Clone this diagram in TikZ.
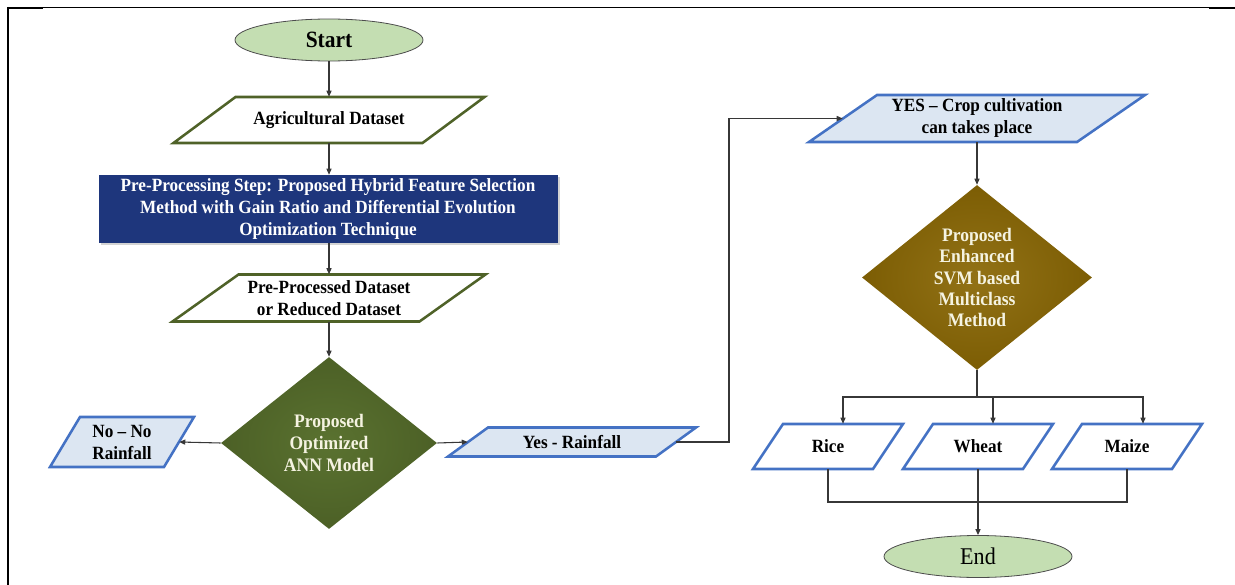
\documentclass[tikz,border=0pt]{standalone}
\usepackage{fontspec}
\setmainfont{Liberation Serif}[FakeStretch=0.92]
\usetikzlibrary{arrows.meta,shapes.geometric,shadows,calc}

\definecolor{ioGreen}{RGB}{79,98,40}
\definecolor{ioBlue}{RGB}{68,114,196}
\definecolor{ioBlueFill}{RGB}{220,230,242}
\definecolor{termFill}{RGB}{196,222,178}
\definecolor{navy}{RGB}{30,54,124}
\definecolor{annOuter}{RGB}{76,96,38}
\definecolor{annInner}{RGB}{90,114,48}
\definecolor{svmOuter}{RGB}{124,93,4}
\definecolor{svmInner}{RGB}{146,114,22}
\definecolor{cream}{RGB}{245,243,225}
\definecolor{wire}{RGB}{55,55,55}

% input/output parallelogram: style, name, centre x, centre y, edge length, height, slant, text
\newcommand\iobox[8]{%
  \draw[#1] ({#3-#5/2+#7/2},{#4-#6/2}) -- ({#3+#5/2+#7/2},{#4-#6/2})
     -- ({#3+#5/2-#7/2},{#4+#6/2}) -- ({#3-#5/2-#7/2},{#4+#6/2}) -- cycle;
  \node[txt, minimum width=#5*0.75pt, minimum height=#6*0.75pt] (#2) at (#3,#4) {#8};
}

\begin{document}
\begin{tikzpicture}[x=0.75pt,y=-0.75pt,
  txt/.style={font=\fontsize{14}{16.5}\selectfont\bfseries, align=center, inner sep=0pt},
  term/.style={ellipse, draw=black!70, line width=0.6pt, fill=termFill,
    minimum width=188*0.75pt, minimum height=42*0.75pt, inner sep=0pt},
  ioG/.style={draw=ioGreen, line width=1.9pt, fill=white},
  ioB/.style={draw=ioBlue, line width=1.9pt, fill=ioBlueFill},
  ioW/.style={draw=ioBlue, line width=1.9pt, fill=white},
  procbox/.style={rectangle, fill=navy, text=white, txt,
    minimum width=459*0.75pt, minimum height=68*0.75pt,
    drop shadow={shadow xshift=1.5pt, shadow yshift=-1.5pt, opacity=0.35}},
  dec/.style={diamond, inner sep=0pt, text=cream, txt, shading=radial},
  wire/.style={draw=wire, line width=0.8pt},
  arr/.style={wire, -{Triangle[length=4.5pt,width=3.8pt]}}]

\useasboundingbox (0,0) rectangle (1235,585);

% page frame
\draw[line width=0.75pt] (43,8) -- (1209,8);
\draw[line width=2pt] (7,8) -- (43,8);
\draw[line width=2pt] (1209,8) -- (1235,8);
\draw[line width=2.2pt] (8,7) -- (8,585);

% left column
\node[term, font=\fontsize{17.5}{20}\selectfont\bfseries] (start) at (329,40) {Start};
\iobox{ioG}{agri}{329}{120}{249}{46}{62}{Agricultural Dataset}
\node[procbox] (prep) at (328,209)
  {Pre-Processing Step: Proposed Hybrid Feature Selection\\
   Method with Gain Ratio and Differential Evolution\\
   Optimization Technique};
\iobox{ioG}{reduced}{329}{298}{247}{47}{66}{Pre-Processed Dataset\\or Reduced Dataset}
\node[dec, inner color=annInner, outer color=annOuter,
  minimum width=216*0.75pt, minimum height=172*0.75pt,
  font=\fontsize{14.3}{16.5}\selectfont\bfseries] (ann) at (329,443)
  {Proposed\\Optimized\\ANN Model};
\iobox{ioB}{norain}{122}{442}{114}{50}{30}{No – No\\Rainfall}
\iobox{ioB}{rain}{572}{442}{208}{29}{40}{Yes - Rainfall}

% right column
\iobox{ioB}{crop}{977}{118.5}{268}{47}{68}{YES – Crop cultivation\\can takes place}
\node[dec, inner color=svmInner, outer color=svmOuter,
  minimum width=230*0.75pt, minimum height=181*0.75pt,
  font=\fontsize{14.3}{16}\selectfont\bfseries] (svm) at (977,277.5)
  {Proposed\\Enhanced\\SVM based\\Multiclass\\Method};
\iobox{ioW}{rice}{828}{446.5}{120}{45}{30}{Rice}
\iobox{ioW}{wheat}{978}{446.5}{120}{45}{30}{Wheat}
\iobox{ioW}{maize}{1127}{446.5}{120}{45}{30}{Maize}
\node[term, font=\fontsize{18}{20}\selectfont] (stop) at (978,556.5) {End};

% connectors
\draw[arr] (start.south) -- (agri.north);
\draw[arr] (agri.south) -- (agri.south |- prep.north);
\draw[arr] (agri.south |- prep.south) -- (reduced.north);
\draw[arr] (reduced.south) -- (ann.north);
\draw[arr] (ann.west) -- (norain.east);
\draw[arr] (ann.east) -- (rain.west);
\coordinate (bend) at (729,300);
\draw[arr] (rain.east) -| (bend) |- (crop.west);
\draw[arr] (crop.south) -- (svm.north);

\coordinate (fork) at (977,397);
\coordinate (riceIn) at ($(rice.north)+(15,0)$);
\coordinate (wheatIn) at ($(wheat.north)+(15,0)$);
\coordinate (maizeIn) at ($(maize.north)+(16,0)$);
\draw[wire] (svm.south) -- (fork);
\draw[arr] (fork) -| (riceIn);
\draw[arr] (fork) -| (maizeIn);
\draw[arr] (wheatIn |- fork) -- (wheatIn);

\coordinate (join) at (977,502);
\draw[wire] (rice.south) |- (join) -| (maize.south);
\draw[arr] (wheat.south) -- (stop.north);
\end{tikzpicture}
\end{document}
